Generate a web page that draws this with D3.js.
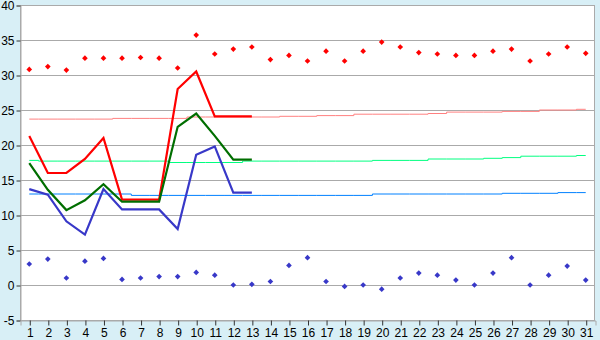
<!DOCTYPE html>
<html>
<head>
<meta charset="utf-8">
<script src="https://cdn.jsdelivr.net/npm/d3@7"></script>
<style>
  html, body { margin: 0; padding: 0; background: #d8eff6; }
  #chart { width: 600px; height: 340px; }
  text { font-family: "Liberation Sans", Arial, sans-serif; font-size: 12px; fill: #000; }
</style>
</head>
<body>
<div id="chart"></div>
<script>
// ---------- data ----------
const days = d3.range(1, 32);
const yTicks = [-5, 0, 5, 10, 15, 20, 25, 30, 35, 40];

// record highs / lows (markers)
const recordHigh = [30.8, 31.2, 30.7, 32.4, 32.4, 32.4, 32.5, 32.4, 31.0, 35.7,
  33.0, 33.7, 34.0, 32.2, 32.8, 32.0, 33.4, 32.0, 33.4, 34.7,
  34.0, 33.2, 33.0, 32.8, 32.8, 33.4, 33.7, 32.0, 33.0, 34.0, 33.1];
const recordLow = [3.0, 3.7, 1.0, 3.4, 3.8, 0.8, 1.0, 1.2, 1.2, 1.8,
  1.4, 0.0, 0.1, 0.5, 2.8, 3.9, 0.5, -0.2, 0.0, -0.6,
  1.0, 1.7, 1.4, 0.7, 0.0, 1.7, 3.9, 0.0, 1.4, 2.7, 0.7];

// observed this month (days 1-13)
const obsMax = [21.3, 16.0, 16.0, 18.0, 21.0, 12.2, 12.2, 12.2, 28.0, 30.5, 24.1, 24.1, 24.1];
const obsMean = [17.4, 13.6, 10.7, 12.1, 14.4, 11.9, 11.9, 11.9, 22.6, 24.5, 21.3, 17.9, 17.9];
const obsMin = [13.7, 12.9, 9.1, 7.2, 13.7, 10.8, 10.8, 10.8, 8.0, 18.6, 19.8, 13.2, 13.2];

// normals
const normMax = [23.7, 23.7, 23.7, 23.7, 23.7, 23.8, 23.8, 23.8, 23.8, 24.0,
  24.0, 24.0, 24.0, 24.0, 24.1, 24.1, 24.2, 24.2, 24.4, 24.4,
  24.4, 24.4, 24.5, 24.7, 24.7, 24.7, 24.8, 24.8, 25.0, 25.0, 25.1];
const normMean = [17.8, 17.7, 17.7, 17.7, 17.7, 17.7, 17.7, 17.7, 17.5, 17.5,
  17.5, 17.5, 17.7, 17.7, 17.7, 17.7, 17.7, 17.7, 17.7, 17.8,
  17.8, 17.8, 18.0, 18.0, 18.0, 18.1, 18.2, 18.4, 18.4, 18.4, 18.5];
const normMin = [13.0, 13.0, 13.0, 13.0, 13.0, 13.0, 12.8, 12.8, 12.8, 12.8,
  12.8, 12.8, 12.8, 12.8, 12.8, 12.8, 12.8, 12.8, 12.8, 13.0,
  13.0, 13.0, 13.0, 13.0, 13.0, 13.0, 13.1, 13.1, 13.1, 13.2, 13.2];

// ---------- layout ----------
const W = 600, H = 340;
const m = { left: 20, right: 5, top: 5, bottom: 20 };

const svg = d3.select('#chart').append('svg')
  .attr('width', W).attr('height', H);

const x = d3.scalePoint().domain(days).range([m.left, W - m.right]).padding(0.5);
const y = d3.scaleLinear().domain([-5, 40]).range([H - m.bottom, m.top]);

// plot background
svg.append('rect')
  .attr('x', m.left).attr('y', m.top)
  .attr('width', W - m.left - m.right).attr('height', H - m.top - m.bottom)
  .attr('fill', '#fff');

// grid
svg.append('g').selectAll('line').data(yTicks).join('line')
  .attr('x1', m.left).attr('x2', W - m.right)
  .attr('y1', d => Math.round(y(d)) + 0.5).attr('y2', d => Math.round(y(d)) + 0.5)
  .attr('stroke', '#aaa').attr('shape-rendering', 'crispEdges');

// border
svg.append('rect')
  .attr('x', m.left + 0.5).attr('y', m.top + 0.5)
  .attr('width', W - m.left - m.right - 1).attr('height', H - m.top - m.bottom)
  .attr('fill', 'none').attr('stroke', '#aaa').attr('shape-rendering', 'crispEdges');

// axes
const yAxis = svg.append('g')
  .attr('transform', `translate(${m.left + 0.5},0.5)`)
  .call(d3.axisLeft(y).tickValues(yTicks).tickSize(4).tickPadding(2).tickFormat(d => String(d)));
const xAxis = svg.append('g')
  .attr('transform', `translate(0.5,${H - m.bottom + 0.5})`)
  .call(d3.axisBottom(x).tickSize(5).tickPadding(3));
[yAxis, xAxis].forEach(g => {
  g.select('.domain').attr('stroke', '#aaa');
  g.selectAll('.tick line').attr('stroke', '#333');
  g.attr('font-size', null).attr('font-family', null);
});

// normals (step lines)
const stepLine = d3.line()
  .x((d, i) => x(days[i]))
  .y(d => y(d))
  .curve(d3.curveStep);

[[normMax, '#ff8080'], [normMean, '#00ff80'], [normMin, '#0080ff']].forEach(([s, c]) => {
  svg.append('path').datum(s)
    .attr('fill', 'none').attr('stroke', c).attr('stroke-width', 1)
    .attr('d', stepLine);
});

// observed lines
const obsLine = d3.line()
  .x((d, i) => x(days[i]))
  .y(d => y(d));

[[obsMin, '#3838c8'], [obsMax, '#ff0000'], [obsMean, '#006e00']].forEach(([s, c]) => {
  svg.append('path').datum(s)
    .attr('fill', 'none').attr('stroke', c).attr('stroke-width', 2.2)
    .attr('d', obsLine);
});

// record markers
const marker = d3.symbol(d3.symbolSquare, 16)();
[[recordHigh, '#ff0000'], [recordLow, '#3838c8']].forEach(([s, c]) => {
  svg.append('g').selectAll('path').data(s).join('path')
    .attr('d', marker)
    .attr('fill', c)
    .attr('transform', (d, i) => `translate(${x(days[i])},${y(d)}) rotate(45)`);
});
</script>
</body>
</html>
